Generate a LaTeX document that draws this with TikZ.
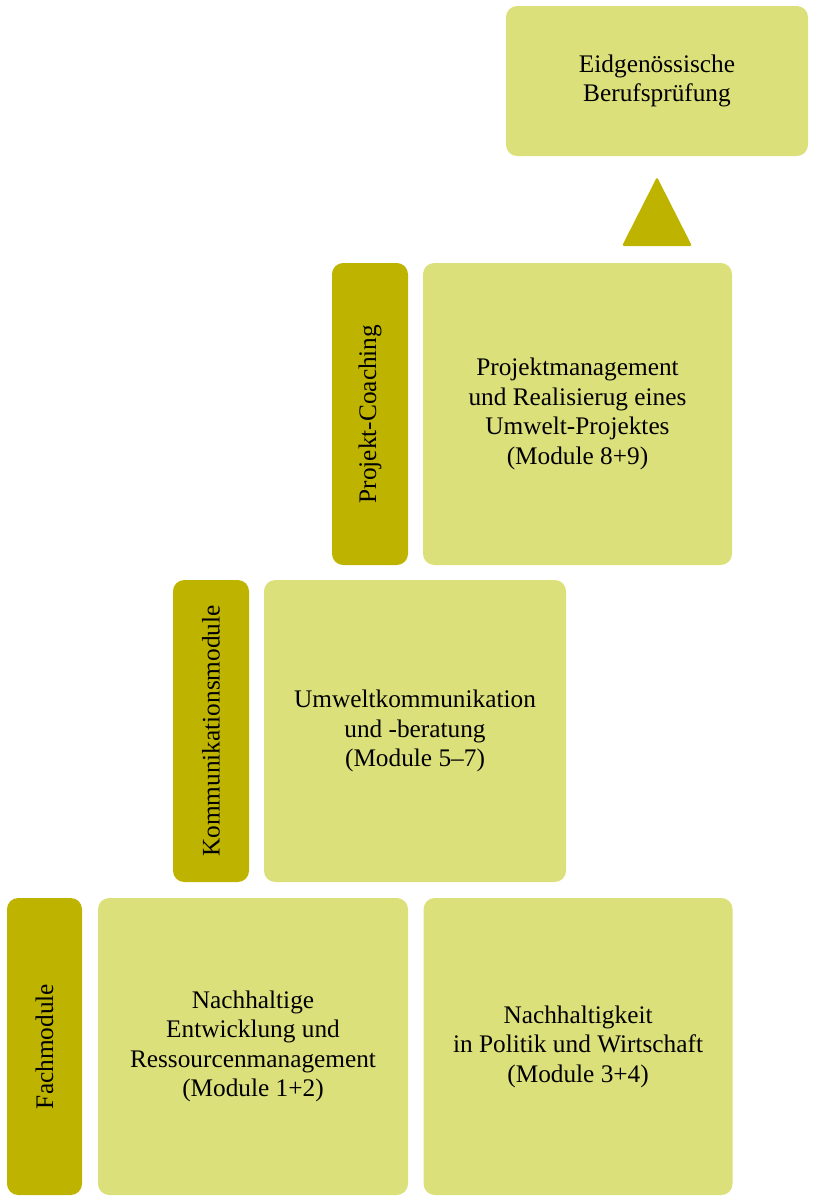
\documentclass[tikz,border=0pt]{standalone}
\usepackage{fontspec}
\setmainfont{Liberation Serif}
\usetikzlibrary{positioning}

\definecolor{lightolive}{RGB}{220,224,122}
\definecolor{darkolive}{RGB}{190,180,0}

\tikzset{
    modbox/.style={fill=lightolive, rounded corners=0.28cm, align=center, inner sep=0pt,
        font=\fontsize{18}{21}\selectfont},
    sidebar/.style={fill=darkolive, rounded corners=0.28cm, inner sep=0pt, rotate=90,
        minimum height=1.9cm, font=\fontsize{18}{21}\selectfont}
}

\begin{document}
\begin{tikzpicture}
        \useasboundingbox (0,0) rectangle (20.35,-29.9);

        % Top: final exam
        \node[modbox, minimum width=7.55cm, minimum height=3.75cm] (ebp) at (16.425,-2.025) {Eidgenössische\\Berufsprüfung};
        \fill[darkolive, rounded corners=1.5pt] (15.55,-6.15) -- (16.425,-4.425) -- (17.3,-6.15) -- cycle;

        % Step 3
        \node[sidebar, minimum width=7.55cm] (coach) at (9.25,-10.35) {Projekt-Coaching};
        \node[modbox, minimum width=7.725cm, minimum height=7.55cm] (projekt) at (14.4375,-10.35) {Projektmanagement\\und Realisierug eines\\Umwelt-Projektes\\(Module 8+9)};

        % Step 2
        \node[sidebar, minimum width=7.55cm] (komm) at (5.275,-18.275) {Kommunikationsmodule};
        \node[modbox, minimum width=7.55cm, minimum height=7.55cm] (umwelt) at (10.375,-18.275) {Umweltkommunikation\\und -beratung\\(Module 5--7)};

        % Step 1
        \node[sidebar, minimum width=7.425cm, minimum height=1.875cm] (fach) at (1.1125,-26.1625) {Fachmodule};
        \node[modbox, minimum width=7.75cm, minimum height=7.425cm] (nachh) at (6.325,-26.1625) {Nachhaltige\\Entwicklung und\\Ressourcenmanagement\\(Module 1+2)};
        \node[modbox, minimum width=7.725cm, minimum height=7.425cm, right=0.375cm of nachh] (polit) {Nachhaltigkeit\\in Politik und Wirtschaft\\(Module 3+4)};

    \end{tikzpicture}
\end{document}
